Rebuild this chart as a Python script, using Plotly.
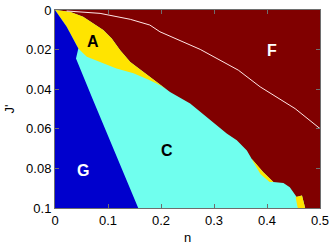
import plotly.graph_objects as go

# Phase boundaries (n, J')
yellow_top_n = [0.0, 0.028, 0.053, 0.072, 0.091, 0.107, 0.123, 0.142, 0.167, 0.192, 0.210]
yellow_top_j = [0.0, 0.0009, 0.0034, 0.0068, 0.0101, 0.0144, 0.0203, 0.0262, 0.0312, 0.0363, 0.0400]

yellow_bot_n = [0.044, 0.060, 0.085, 0.116, 0.148, 0.179, 0.198, 0.210]
yellow_bot_j = [0.0194, 0.0236, 0.0262, 0.0295, 0.0320, 0.0355, 0.0380, 0.0400]

cyan_top_n = [0.210, 0.217, 0.255, 0.286, 0.324, 0.343, 0.362, 0.371, 0.393, 0.412, 0.431, 0.443, 0.453, 0.456, 0.466, 0.472]
cyan_top_j = [0.0400, 0.0414, 0.0472, 0.0540, 0.0624, 0.0658, 0.0709, 0.0751, 0.0819, 0.0869, 0.0874, 0.0895, 0.0937, 0.0945, 0.0937, 0.1000]

blue_edge_n = [0.0, 0.022, 0.044, 0.0396, 0.072, 0.088, 0.127, 0.157]
blue_edge_j = [0.0, 0.0085, 0.0194, 0.0245, 0.0456, 0.0557, 0.0810, 0.1000]

sliver1_n = [0.371, 0.393, 0.412, 0.405, 0.388, 0.375]
sliver1_j = [0.0751, 0.0819, 0.0869, 0.0869, 0.0830, 0.0772]

sliver2_n = [0.454, 0.466, 0.472, 0.458]
sliver2_j = [0.0945, 0.0937, 0.1000, 0.1000]

white_n = [0.022, 0.085, 0.142, 0.179, 0.198, 0.274, 0.346, 0.387, 0.453, 0.500]
white_j = [0.0005, 0.0017, 0.0047, 0.0076, 0.0110, 0.0199, 0.0304, 0.0388, 0.0498, 0.0599]

labels = ["A", "F", "C", "G"]
label_n = [0.072, 0.409, 0.211, 0.053]
label_j = [0.0157, 0.0203, 0.0709, 0.0810]
label_col = ["black", "white", "black", "white"]

RED = "rgb(128,0,0)"
CYAN = "rgb(112,255,238)"
YELLOW = "rgb(255,228,0)"
BLUE = "rgb(0,0,205)"
FONT = "Liberation Sans, Arial"

fig = go.Figure()

def poly(xs, ys, color):
    fig.add_trace(go.Scatter(x=xs, y=ys, mode="lines", fill="toself",
                             fillcolor=color, line=dict(width=0, color=color),
                             hoverinfo="skip", showlegend=False))

# F: whole domain
poly([0, 0.5, 0.5, 0, 0], [0, 0, 0.1, 0.1, 0], RED)
# C: everything under the outer boundary
poly(yellow_top_n + cyan_top_n[1:] + [0.0], yellow_top_j + cyan_top_j[1:] + [0.1], CYAN)
# A
poly(yellow_top_n + yellow_bot_n[::-1][1:] + [0.022, 0.0],
     yellow_top_j + yellow_bot_j[::-1][1:] + [0.0085, 0.0], YELLOW)
# G
poly(blue_edge_n + [0.0], blue_edge_j + [0.1], BLUE)
# small yellow slivers
poly(sliver1_n, sliver1_j, YELLOW)
poly(sliver2_n, sliver2_j, YELLOW)

fig.add_trace(go.Scatter(x=white_n, y=white_j, mode="lines",
                         line=dict(color="rgb(255,230,230)", width=1),
                         hoverinfo="skip", showlegend=False))

for t, x, y, c in zip(labels, label_n, label_j, label_col):
    fig.add_annotation(x=x, y=y, text="<b>%s</b>" % t, showarrow=False,
                       font=dict(size=16, color=c, family=FONT))

axis_common = dict(showgrid=False, zeroline=False, ticks="inside", ticklen=4,
                   mirror="ticks", showline=True, linecolor="rgb(110,110,110)",
                   linewidth=1, tickcolor="rgb(110,110,110)", automargin=False,
                   tickfont=dict(size=13, color="black", family=FONT))

fig.update_xaxes(range=[0, 0.5], tickvals=[0, 0.1, 0.2, 0.3, 0.4, 0.5],
                 ticktext=["0", "0.1", "0.2", "0.3", "0.4", "0.5"],
                 title=dict(text="n", standoff=6,
                            font=dict(size=13, color="black", family=FONT)),
                 **axis_common)
fig.update_yaxes(range=[0.1, 0], tickvals=[0, 0.02, 0.04, 0.06, 0.08, 0.1],
                 ticktext=["0", "0.02", "0.04", "0.06", "0.08", "0.1"],
                 title=dict(text="J'", standoff=8,
                            font=dict(size=13, color="black", family=FONT)),
                 **axis_common)

fig.update_layout(width=332, height=246, margin=dict(l=55, r=12, t=10, b=38),
                  paper_bgcolor="white", plot_bgcolor=RED, showlegend=False)

# remove the browser's default 8px body margin so the figure sits at the top-left corner
fig.write_html("out.html", config={"displayModeBar": False, "staticPlot": True},
               post_script="document.body.style.margin='0';document.body.style.overflow='hidden';")
